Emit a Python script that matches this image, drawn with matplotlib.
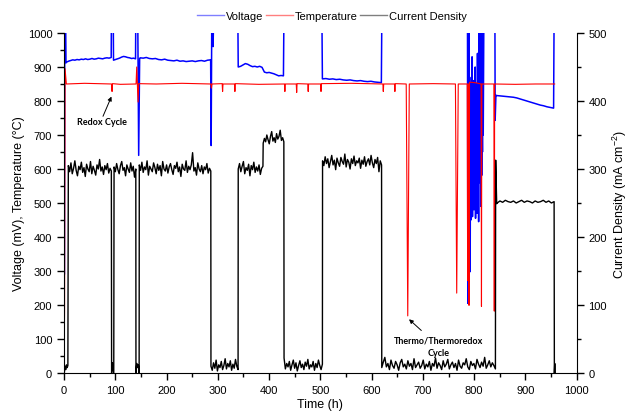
import numpy as np
import matplotlib
matplotlib.use("Agg")
import matplotlib.pyplot as plt
from matplotlib.lines import Line2D
from matplotlib.ticker import MultipleLocator

plt.rcParams['font.family'] = ['Liberation Sans', 'DejaVu Sans']
plt.rcParams['mathtext.default'] = 'regular'

# each segment: (start hour, end hour)
voltage_segments = [
    (0.8, 1.4, [292, 1060]),
    (3.0, 3.8, [1060, 912]),
    (4.5, 92, [914, 917, 919, 921, 920, 922, 921, 923, 922, 924, 922, 923, 925, 923,
               924, 926, 925, 924, 926, 927, 926, 928]),
    (92.5, 96, [1060, 1060]),
    (96.5, 139.5, [920, 922, 924, 926, 929, 931, 930, 928, 927, 925, 926, 924]),
    (140, 147.5, [1060, 1060, 1060, 640, 925]),
    (148.5, 286, [927, 926, 928, 925, 924, 925, 922, 921, 923, 920, 919, 918, 920, 917,
                  918, 916, 917, 918, 916, 918, 919, 917, 920, 921]),
    (287, 292, [669, 1060, 1060, 960, 1060]),
    (300, 339, [1060, 1060]),
    (339.8, 428, [900, 902, 906, 910, 908, 904, 901, 902, 900, 902, 899, 885, 883, 884,
                  882, 880, 877, 874, 875, 874]),
    (429, 503, [1060, 1060]),
    (504, 619, [865, 866, 864, 865, 863, 864, 862, 861, 862, 860, 859, 860, 858, 857,
                858, 856, 855, 854]),
    (620, 786, [1060, 1060]),
    (787, 818.5, [1060, 205, 880, 300, 1060, 470, 850, 298, 760, 450, 870, 520, 930, 460,
                  700, 540, 860, 480, 640, 522, 900, 455, 780, 600, 850, 470, 940, 510,
                  820, 445, 1060, 560, 1060, 600, 880, 490, 1060, 581, 860, 650, 1060,
                  700, 900]),
    (819, 840.5, [1060, 1060]),
    (841, 842.5, [743, 817]),
    (844, 955, [816, 815, 814, 813, 812, 811, 809, 806, 803, 800, 797, 794, 791, 788,
                786, 783, 781, 779]),
    (956, 957, [1060, 1060]),
]

temp_t = [0.3, 1.0, 2.0, 4.5, 40, 92.8, 93.7, 94.6, 110, 140.5, 141.8, 143, 144.5, 145.6,
          180, 230, 286.5, 287.5, 288.5, 308.5, 309.3, 310.1, 332.5, 333.3, 334.1, 380,
          430, 430.8, 431.6, 453, 453.8, 454.6, 475.5, 476.3, 477.1, 500.5, 501.3, 502.1,
          560, 622, 622.8, 623.6, 644.6, 645.4, 646.2, 667.5, 670.5, 673.5, 720, 763.5,
          766, 769, 786.5, 787.3, 788, 789.3, 790, 791, 795, 805, 813.5, 814.3, 815,
          838.5, 839.3, 840, 880, 920, 957]
temp_v = [72, 180, 895, 850, 852, 850, 828, 851, 849, 850, 900, 850, 797, 851,
          850, 852, 850, 838, 850, 851, 828, 850, 850, 828, 851, 849,
          850, 828, 850, 850, 825, 851, 850, 828, 850, 850, 828, 851,
          852, 850, 828, 850, 850, 828, 851, 850, 168, 850, 851, 850,
          235, 850, 850, 272, 850, 850, 199, 855, 855, 853, 850, 196, 850,
          850, 182, 850, 849, 850, 850]

cd_segments = [
    (0.5, 7.5, [0, 10, 5, 12, 8, 11]),
    (8.4, 92.3, [305, 296, 309, 293, 301, 312, 298, 290, 304, 299, 310, 295, 302, 289, 307,
                 300, 296, 311, 293, 304, 298, 291, 306, 300, 314, 297, 303, 292, 305, 299,
                 308, 294, 301, 297]),
    (92.8, 97, [0, 15, 8, 0]),
    (97.6, 140, [303, 296, 308, 299, 293, 305, 311, 298, 302, 290, 306, 300, 295, 309, 297,
                 304, 288, 300]),
    (140.3, 146.5, [0, 14, 8, 12, 0]),
    (146.8, 286.3, [306, 298, 310, 295, 303, 299, 312, 291, 304, 300, 296, 309, 302, 293,
                    307, 298, 305, 290, 311, 300, 297, 306, 294, 303, 308, 299, 292, 305,
                    301, 310, 296, 303, 289, 307, 300, 298, 312, 295, 304, 299, 306, 324,
                    297, 302, 291, 309, 300, 296, 305, 293, 303, 299, 308, 294, 301, 297]),
    (286.6, 339.5, [10, 4, 15, 7, 19, 3, 12, 8, 17, 5, 11, 21, 6, 14, 9, 18, 4, 13, 7, 20,
                    10, 5]),
    (339.8, 388, [300, 308, 296, 304, 311, 293, 302, 298, 307, 290, 305, 299, 310, 295, 303,
                  297, 306, 292, 301, 304]),
    (388.5, 428.8, [338, 345, 340, 350, 343, 337, 348, 355, 341, 346, 339, 352, 344, 348,
                    357, 342, 346, 340]),
    (429.2, 504, [22, 6, 14, 9, 17, 4, 12, 19, 7, 15, 3, 11, 18, 8, 13, 5, 16, 10, 20, 6,
                  12, 9, 17, 4, 14, 8, 19, 11, 5, 13]),
    (504.3, 619.4, [312, 305, 318, 308, 315, 302, 311, 320, 306, 313, 299, 316, 309, 304,
                    317, 311, 307, 322, 303, 314, 310, 300, 315, 308, 319, 305, 312, 309,
                    316, 301, 313, 307, 318, 304, 311, 315, 306, 320, 309, 302, 314, 308,
                    317, 296, 312, 306]),
    (619.8, 841.5, [8, 16, 23, 9, 14, 5, 19, 11, 7, 17, 12, 4, 15, 20, 9, 13, 6, 18, 10, 14,
                    5, 21, 8, 12, 16, 7, 11, 19, 6, 13, 9, 17, 4, 14, 10, 22, 7, 15, 11, 5,
                    18, 9, 13, 20, 6, 12, 16, 8, 14, 4, 19, 10, 7, 15, 12, 21, 9, 5, 17, 11,
                    14, 6, 20, 13, 8, 16, 10, 23, 7, 12, 18, 9, 15, 11, 6]),
    (842, 844, [313, 249]),
    (845, 956, [250, 253, 251, 254, 252, 251, 253, 250, 252, 254, 251, 253, 252, 250, 253,
                251, 252, 254, 251, 253, 250, 252]),
    (956.5, 958, [0, 14, 0]),
]


def build(segments):
    t, v = [], []
    for start, end, vals in segments:
        t.extend(np.linspace(start, end, len(vals)))
        v.extend(vals)
    return np.array(t), np.array(v)


volt_t, volt_v = build(voltage_segments)
cd_t, cd_v = build(cd_segments)

fig = plt.figure(figsize=(6.29, 4.14), dpi=100)
ax1 = fig.add_axes([0.1018, 0.0966, 0.8150, 0.8213])
ax2 = ax1.twinx()

ax1.plot(volt_t, volt_v, color='#0000ff', lw=1.1)
ax1.plot(temp_t, temp_v, color='#ff0000', lw=0.8)
ax2.plot(cd_t, cd_v, color='black', lw=1.0)

ax1.set_xlim(0, 1000)
ax1.set_ylim(0, 1000)
ax2.set_ylim(0, 500)

ax1.xaxis.set_major_locator(MultipleLocator(100))
ax1.xaxis.set_minor_locator(MultipleLocator(50))
ax1.yaxis.set_major_locator(MultipleLocator(100))
ax1.yaxis.set_minor_locator(MultipleLocator(50))
ax2.yaxis.set_major_locator(MultipleLocator(100))
ax2.yaxis.set_minor_locator(MultipleLocator(50))

for ax in (ax1, ax2):
    ax.spines['top'].set_visible(False)
    ax.tick_params(which='major', direction='out', length=5, width=1, labelsize=8)
    ax.tick_params(which='minor', direction='out', length=3, width=1)
ax1.spines['right'].set_visible(False)
ax2.spines['left'].set_visible(False)
ax2.spines['bottom'].set_visible(False)

ax1.set_xlabel('Time (h)', fontsize=9, labelpad=2)
ax1.set_ylabel('Voltage (mV), Temperature (°C)', fontsize=9, labelpad=2)
ax2.set_ylabel('Current Density (mA cm$^{-2}$)', fontsize=9, labelpad=3)

afont = dict(family=['Lato', 'DejaVu Sans'], fontweight='bold', fontsize=6.5,
             ha='center', va='center')
arrow = dict(arrowstyle='-|>', color='black', lw=0.7, mutation_scale=6,
             shrinkA=0, shrinkB=0)
ax1.text(73, 739, 'Redox Cycle', **afont)
ax1.annotate('', xy=(92.5, 813), xytext=(76, 755), arrowprops=arrow)
ax1.text(731, 79, 'Thermo/Thermoredox\nCycle', linespacing=1.5, **afont)
ax1.annotate('', xy=(673, 158), xytext=(697, 125), arrowprops=arrow)

handles = [Line2D([], [], color='#0000ff', lw=1, alpha=0.5),
           Line2D([], [], color='#ff0000', lw=1, alpha=0.5),
           Line2D([], [], color='black', lw=1, alpha=0.5)]
fig.legend(handles, ['Voltage', 'Temperature', 'Current Density'], loc='center',
           bbox_to_anchor=(0.528, 0.959), ncol=3, frameon=False, fontsize=8,
           handlelength=2.4, handletextpad=0.2, columnspacing=0.2)

fig.savefig('out.png', dpi=100)
